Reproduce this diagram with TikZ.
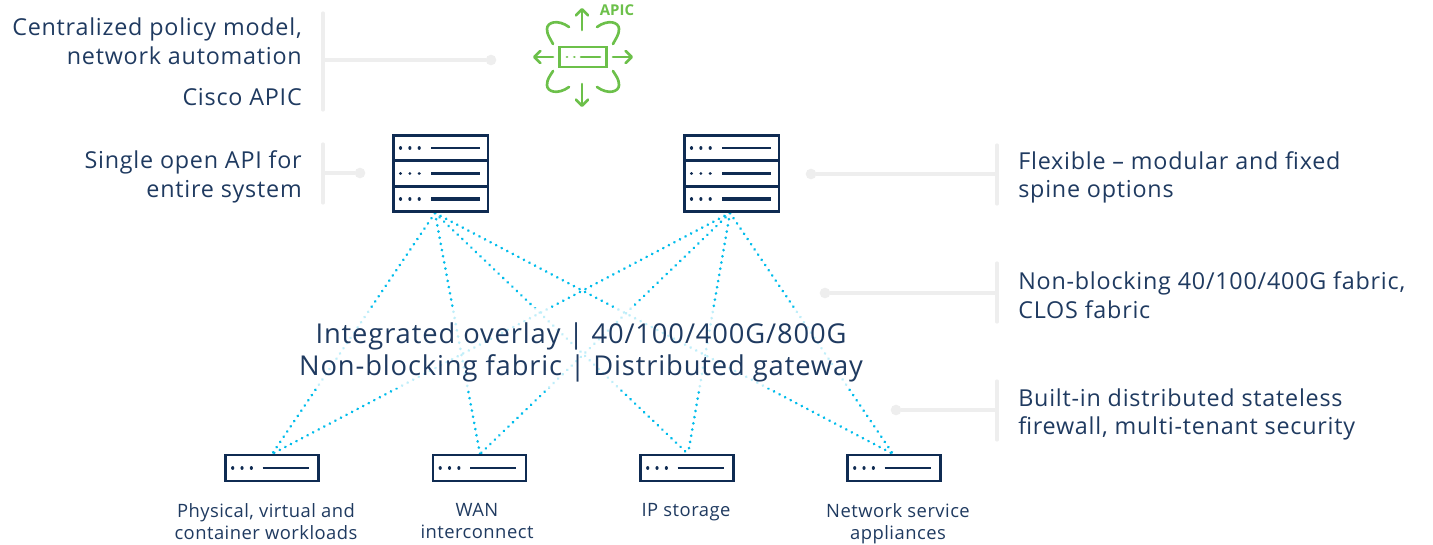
\documentclass[tikz,border=0pt]{standalone}
\usepackage{fontspec}
\usetikzlibrary{arrows.meta}
\setmainfont{Open Sans}
\newfontfamily\lsa[LetterSpace=3.3]{Open Sans}
\newfontfamily\lsb[LetterSpace=3.2]{Open Sans}
\newfontfamily\lsc[LetterSpace=2.5]{Open Sans}
\definecolor{navy}{HTML}{0F2B52}
\definecolor{txt}{HTML}{1F3A60}
\definecolor{cy}{HTML}{00BCEB}
\definecolor{gr}{HTML}{6CC04A}
\definecolor{lg}{HTML}{EEEEEE}
\tikzset{
 x=0.75pt,y=-0.75pt,
 box/.style={draw=navy,line width=2pt,rectangle,inner sep=0pt,minimum width=71pt,minimum height=19pt,fill=white},
 leaf/.style={draw=navy,line width=1.9pt,rectangle,inner sep=0pt,minimum width=70pt,minimum height=19.5pt,fill=white},
 link/.style={cy,line width=2.2pt,dash pattern=on 0.01pt off 4.7pt,line cap=round},
 grule/.style={lg,line width=2.4pt,line cap=round},
 gdot/.style={circle,fill=lg,inner sep=0pt,minimum size=8pt},
 lab/.style={font=\lsa\fontsize{17.5}{21.5}\selectfont,text=txt,inner sep=0pt},
 small/.style={font=\lsc\fontsize{13.8}{16.5}\selectfont,text=txt,inner sep=0pt,align=center,anchor=north},
 dots/.style={navy,line width=2.4pt,dash pattern=on 0.01pt off 7pt,line cap=round},
 bar/.style={navy,line width=1.9pt},
 ic/.style={gr,line width=2pt,line cap=round,line join=round},
 barb/.style={ic,-{Straight Barb[length=4.5pt,width=9pt,round]}}
}
\begin{document}
\begin{tikzpicture}
\useasboundingbox (0,0) rectangle (1433,544);
\coordinate (sa) at (435,213);
\coordinate (sb) at (730,213);
\coordinate (t1) at (272,454);
\coordinate (t2) at (480,454);
\coordinate (t3) at (688,454);
\coordinate (t4) at (893,454);
\foreach \s in {sa,sb}\foreach \t in {t1,t2,t3,t4}{\draw[link] (\s) -- (\t);}
\fill[white,opacity=0.75] (302,308) rectangle (862,388);
\node[box] (a1) at (440.5,148) {};
\node[box] (a2) at (440.5,173.5) {};
\node[box] (a3) at (440.5,199) {};
\node[box] (b1) at (731.5,148) {};
\node[box] (b2) at (731.5,173.5) {};
\node[box] (b3) at (731.5,199) {};
\node[leaf] (l1) at (272,468) {};
\node[leaf] (l2) at (479.5,468) {};
\node[leaf] (l3) at (687,468) {};
\node[leaf] (l4) at (894,468) {};
\foreach \n in {a1,a2,a3,b1,b2,b3}{
 \draw[dots] ([xshift=-30pt]\n.center) -- ([xshift=-15.5pt]\n.center);
}
\foreach \n in {a1,a2,b1,b2}{
 \draw[bar] ([xshift=-7pt]\n.center) -- ([xshift=29.5pt]\n.center);
}
\foreach \n in {a3,b3}{
 \draw[bar,line width=2.4pt] ([xshift=-7pt]\n.center) -- ([xshift=29.5pt]\n.center);
}
\foreach \n in {l1,l2,l3,l4}{
 \draw[dots] ([xshift=-29.5pt]\n.center) -- ([xshift=-15pt]\n.center);
 \draw[bar] ([xshift=-7pt]\n.center) -- ([xshift=27.5pt]\n.center);
}
% APIC
\node[draw=gr,line width=2pt,minimum width=35pt,minimum height=15pt,inner sep=0pt] (ap) at (583,57) {};
\draw[gr,line width=2.2pt,dash pattern=on 0.01pt off 5.5pt,line cap=round] (567,57) -- (575,57);
\draw[ic] (581,57) -- (600,57);
\coordinate (aN) at (582,30);\coordinate (aNe) at (582,8);
\coordinate (aS) at (582,84);\coordinate (aSe) at (582,107);
\coordinate (aW) at (553,57);\coordinate (aWe) at (533,57);
\coordinate (aE) at (613,57);\coordinate (aEe) at (633,57);
\draw[barb] (aN) -- (aNe);
\draw[barb] (aS) -- (aSe);
\draw[barb] (aW) -- (aWe);
\draw[barb] (aE) -- (aEe);
\draw[ic] (569,27) .. controls (558,19) and (547,22) .. (547,29) .. controls (547,35) and (550,38) .. (553,44);
\draw[ic] (597,27) .. controls (608,19) and (619,22) .. (619,29) .. controls (619,35) and (616,38) .. (613,44);
\draw[ic] (569,87) .. controls (558,95) and (547,92) .. (547,85) .. controls (547,79) and (550,76) .. (553,71);
\draw[ic] (597,87) .. controls (608,95) and (619,92) .. (619,85) .. controls (619,79) and (616,76) .. (613,71);
\node[font=\fontsize{11.2}{13}\selectfont\bfseries,text=gr,inner sep=0pt] (apic) at (617,10) {APIC};
% rules
\coordinate (r1t) at (323,13);\coordinate (r1b) at (323,110);\coordinate (r1m) at (323,60);
\draw[grule] (r1t) -- (r1b);
\node[gdot] (d1) at (491,60) {};\draw[grule] (r1m) -- (d1);
\coordinate (r2t) at (323,144);\coordinate (r2b) at (323,203);\coordinate (r2m) at (323,173);
\draw[grule] (r2t) -- (r2b);
\node[gdot] (d2) at (360,173) {};\draw[grule] (r2m) -- (d2);
\coordinate (r3t) at (997,145);\coordinate (r3b) at (997,204);\coordinate (r3m) at (997,174);
\draw[grule] (r3t) -- (r3b);
\node[gdot] (d3) at (811,174) {};\draw[grule] (r3m) -- (d3);
\coordinate (r4t) at (997,263);\coordinate (r4b) at (997,322);\coordinate (r4m) at (997,293);
\draw[grule] (r4t) -- (r4b);
\node[gdot] (d4) at (825,293) {};\draw[grule] (r4m) -- (d4);
\coordinate (r5t) at (997,381);\coordinate (r5b) at (997,440);\coordinate (r5m) at (997,410);
\draw[grule] (r5t) -- (r5b);
\node[gdot] (d5) at (896,410) {};\draw[grule] (r5m) -- (d5);
% labels
\node[lab,anchor=east,align=right] (tl1) at (302,41.5) {Centralized policy model,\\network automation};
\node[lab,anchor=east] (tl2) at (302,97.5) {Cisco APIC};
\node[lab,anchor=east,align=right] (tl3) at (302,177) {Single open API for\\entire system};
\node[lab,anchor=west,align=left] (tr1) at (1018,177.5) {Flexible – modular and fixed\\spine options};
\node[lab,anchor=west,align=left] (tr2) at (1018,295) {Non-blocking 40/100/400G fabric,\\CLOS fabric};
\node[lab,anchor=west,align=left] (tr3) at (1018,414.5) {Built-in distributed stateless\\firewall, multi-tenant security};
\node[font=\lsb\fontsize{20.5}{24.5}\selectfont,text=txt,inner sep=0pt,align=center] (mid) at (581,352.5) {Integrated overlay | 40/100/400G/800G\\Non-blocking fabric | Distributed gateway};
\node[small] (s1) at (266,503) {Physical, virtual and\\container workloads};
\node[small] (s2) at (477,503) {WAN\\interconnect};
\node[small] (s3) at (686,503) {IP storage};
\node[small] (s4) at (898,503) {Network service\\appliances};
\end{tikzpicture}
\end{document}
